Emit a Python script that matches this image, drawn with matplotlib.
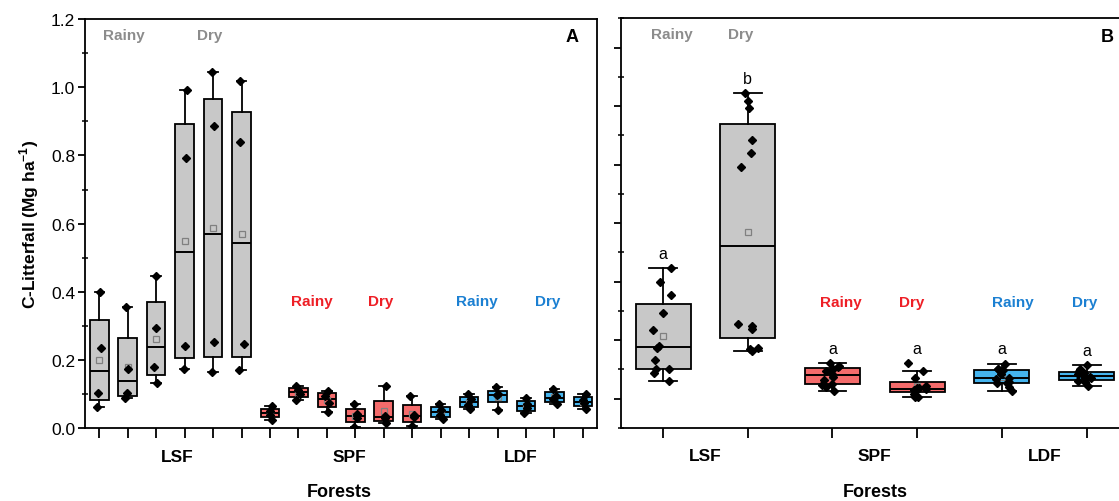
import matplotlib
matplotlib.use('Agg')
import matplotlib.pyplot as plt
import numpy as np
from matplotlib.ticker import MultipleLocator

plt.rcParams.update({
    'font.family': ['Liberation Sans', 'DejaVu Sans'],
    'mathtext.fontset': 'custom',
    'mathtext.rm': 'Liberation Sans',
    'mathtext.bf': 'Liberation Sans:bold',
    'axes.linewidth': 1.3,
})

# C-litterfall (Mg ha-1): three boxes per forest and season, four samples each
lsf_rainy = [[0.062, 0.103, 0.235, 0.399], [0.088, 0.103, 0.174, 0.355], [0.132, 0.181, 0.293, 0.446]]
lsf_dry = [[0.174, 0.240, 0.792, 0.992], [0.164, 0.254, 0.885, 1.044], [0.171, 0.247, 0.838, 1.017]]
spf_rainy = [[0.025, 0.040, 0.050, 0.065], [0.084, 0.100, 0.112, 0.123], [0.048, 0.075, 0.095, 0.110]]
spf_dry = [[0.005, 0.031, 0.043, 0.071], [0.015, 0.029, 0.035, 0.123], [0.006, 0.032, 0.038, 0.096]]
ldf_rainy = [[0.028, 0.040, 0.054, 0.072], [0.056, 0.068, 0.085, 0.100], [0.055, 0.097, 0.100, 0.120]]
ldf_dry = [[0.045, 0.059, 0.070, 0.088], [0.070, 0.085, 0.095, 0.115], [0.058, 0.074, 0.082, 0.100]]

forests = ['LSF', 'SPF', 'LDF']
seasons = ['Rainy', 'Dry']
letters_b = ['a', 'b', 'a', 'a', 'a', 'a']

groups = [lsf_rainy, lsf_dry, spf_rainy, spf_dry, ldf_rainy, ldf_dry]
fills = ['#c8c8c8', '#c8c8c8', '#f46b6b', '#f46b6b', '#45b4ee', '#45b4ee']
text_cols = ['#8c8c8c', '#ee1f26', '#1c80d2']

rng = np.random.default_rng(3)


def box_stats(d):
    d = np.asarray(d, float)
    q1, med, q3 = np.percentile(d, [25, 50, 75], method='hazen')
    iqr = q3 - q1
    inside = d[(d >= q1 - 1.5 * iqr) & (d <= q3 + 1.5 * iqr)]
    return dict(med=med, q1=q1, q3=q3, whislo=inside.min(), whishi=inside.max(),
                mean=d.mean(), fliers=[])


def draw_box(ax, data, pos, color, jit):
    ax.bxp([box_stats(data)], positions=[pos], widths=0.65, capwidths=0.33,
           patch_artist=True, showmeans=True, showfliers=False, manage_ticks=False,
           boxprops=dict(facecolor=color, edgecolor='black', lw=1.3),
           medianprops=dict(color='black', lw=1.4),
           whiskerprops=dict(color='black', lw=1.3),
           capprops=dict(color='black', lw=1.3),
           meanprops=dict(marker='s', mfc='none', mec='#808080', ms=4.5, mew=0.9))
    x = pos + rng.uniform(-jit, jit, len(data))
    ax.plot(x, data, 'D', color='black', ms=4.3, zorder=5)


fig = plt.figure(figsize=(11.19, 5.02), dpi=100, facecolor='white')
axA = fig.add_axes([0.076, 0.1448, 0.4576, 0.8154])
axB = fig.add_axes([0.5547, 0.1454, 0.4542, 0.8162])

# ── panel A: every box ──
pos = 1
for g, col in zip(groups, fills):
    for d in g:
        draw_box(axA, d, pos, col, 0.1)
        pos += 1
axA.set_xlim(0.5, 18.5)
axA.set_ylim(0, 1.2)
axA.set_xticks(np.arange(1, 19))
axA.set_xticklabels([])
axA.yaxis.set_major_locator(MultipleLocator(0.2))
axA.yaxis.set_minor_locator(MultipleLocator(0.1))
axA.yaxis.set_major_formatter(matplotlib.ticker.FormatStrFormatter('%.1f'))
axA.tick_params(axis='y', which='major', direction='out', length=5, width=1.3, labelsize=12.5, pad=2)
axA.tick_params(axis='y', which='minor', direction='inout', length=4, width=1.1)
axA.tick_params(axis='x', direction='out', length=7, width=1.3)
axA.set_ylabel(r'C-Litterfall (Mg ha$^{\mathbf{-1}}$)', fontsize=12.5, fontweight='bold', labelpad=7)
axA.text(0.951, 0.956, 'A', transform=axA.transAxes, ha='center', va='center',
         fontsize=13, fontweight='bold')

season_x_a = [1.87, 4.88, 8.48, 10.91, 14.26, 16.78]
season_y_a = [1.153, 1.153, 0.372, 0.372, 0.372, 0.372]
for i in range(6):
    axA.text(season_x_a[i], season_y_a[i], seasons[i % 2], color=text_cols[i // 2],
             ha='center', va='center', fontsize=11, fontweight='bold')
for i, f in enumerate(forests):
    axA.text([3.75, 9.8, 15.8][i], -0.068, f, transform=axA.get_xaxis_transform(),
             ha='center', va='center', fontsize=12.5, fontweight='bold')
axA.text(0.496, -0.154, 'Forests', transform=axA.transAxes, ha='center', va='center',
         fontsize=13, fontweight='bold')

# ── panel B: pooled by season ──
for i, (g, col) in enumerate(zip(groups, fills)):
    pooled = sum(g, [])
    draw_box(axB, pooled, i + 1, col, 0.13)
    axB.text(i + 1, max(pooled) + 0.05, letters_b[i], ha='center', va='center', fontsize=11.5)
axB.set_xlim(0.5, 6.5)
axB.set_ylim(-0.1, 1.3)
axB.set_xticks(np.arange(1, 7))
axB.set_xticklabels([])
axB.yaxis.set_major_locator(MultipleLocator(0.2))
axB.yaxis.set_minor_locator(MultipleLocator(0.1))
axB.set_yticklabels([])
axB.tick_params(axis='y', which='major', direction='out', length=5, width=1.3)
axB.tick_params(axis='y', which='minor', direction='inout', length=4, width=1.1)
axB.tick_params(axis='x', direction='out', length=7, width=1.3)
axB.text(0.958, 0.956, 'B', transform=axB.transAxes, ha='center', va='center',
         fontsize=13, fontweight='bold')

season_x_b = [1.1, 1.92, 3.1, 3.94, 5.13, 5.98]
season_y_b = [1.246, 1.246, 0.332, 0.332, 0.332, 0.332]
for i in range(6):
    axB.text(season_x_b[i], season_y_b[i], seasons[i % 2], color=text_cols[i // 2],
             ha='center', va='center', fontsize=11, fontweight='bold')
for i, f in enumerate(forests):
    axB.text(1.5 + 2 * i, -0.068, f, transform=axB.get_xaxis_transform(),
             ha='center', va='center', fontsize=12.5, fontweight='bold')
axB.text(0.5, -0.154, 'Forests', transform=axB.transAxes, ha='center', va='center',
         fontsize=13, fontweight='bold')

fig.savefig('out.png', dpi=100, facecolor='white')
